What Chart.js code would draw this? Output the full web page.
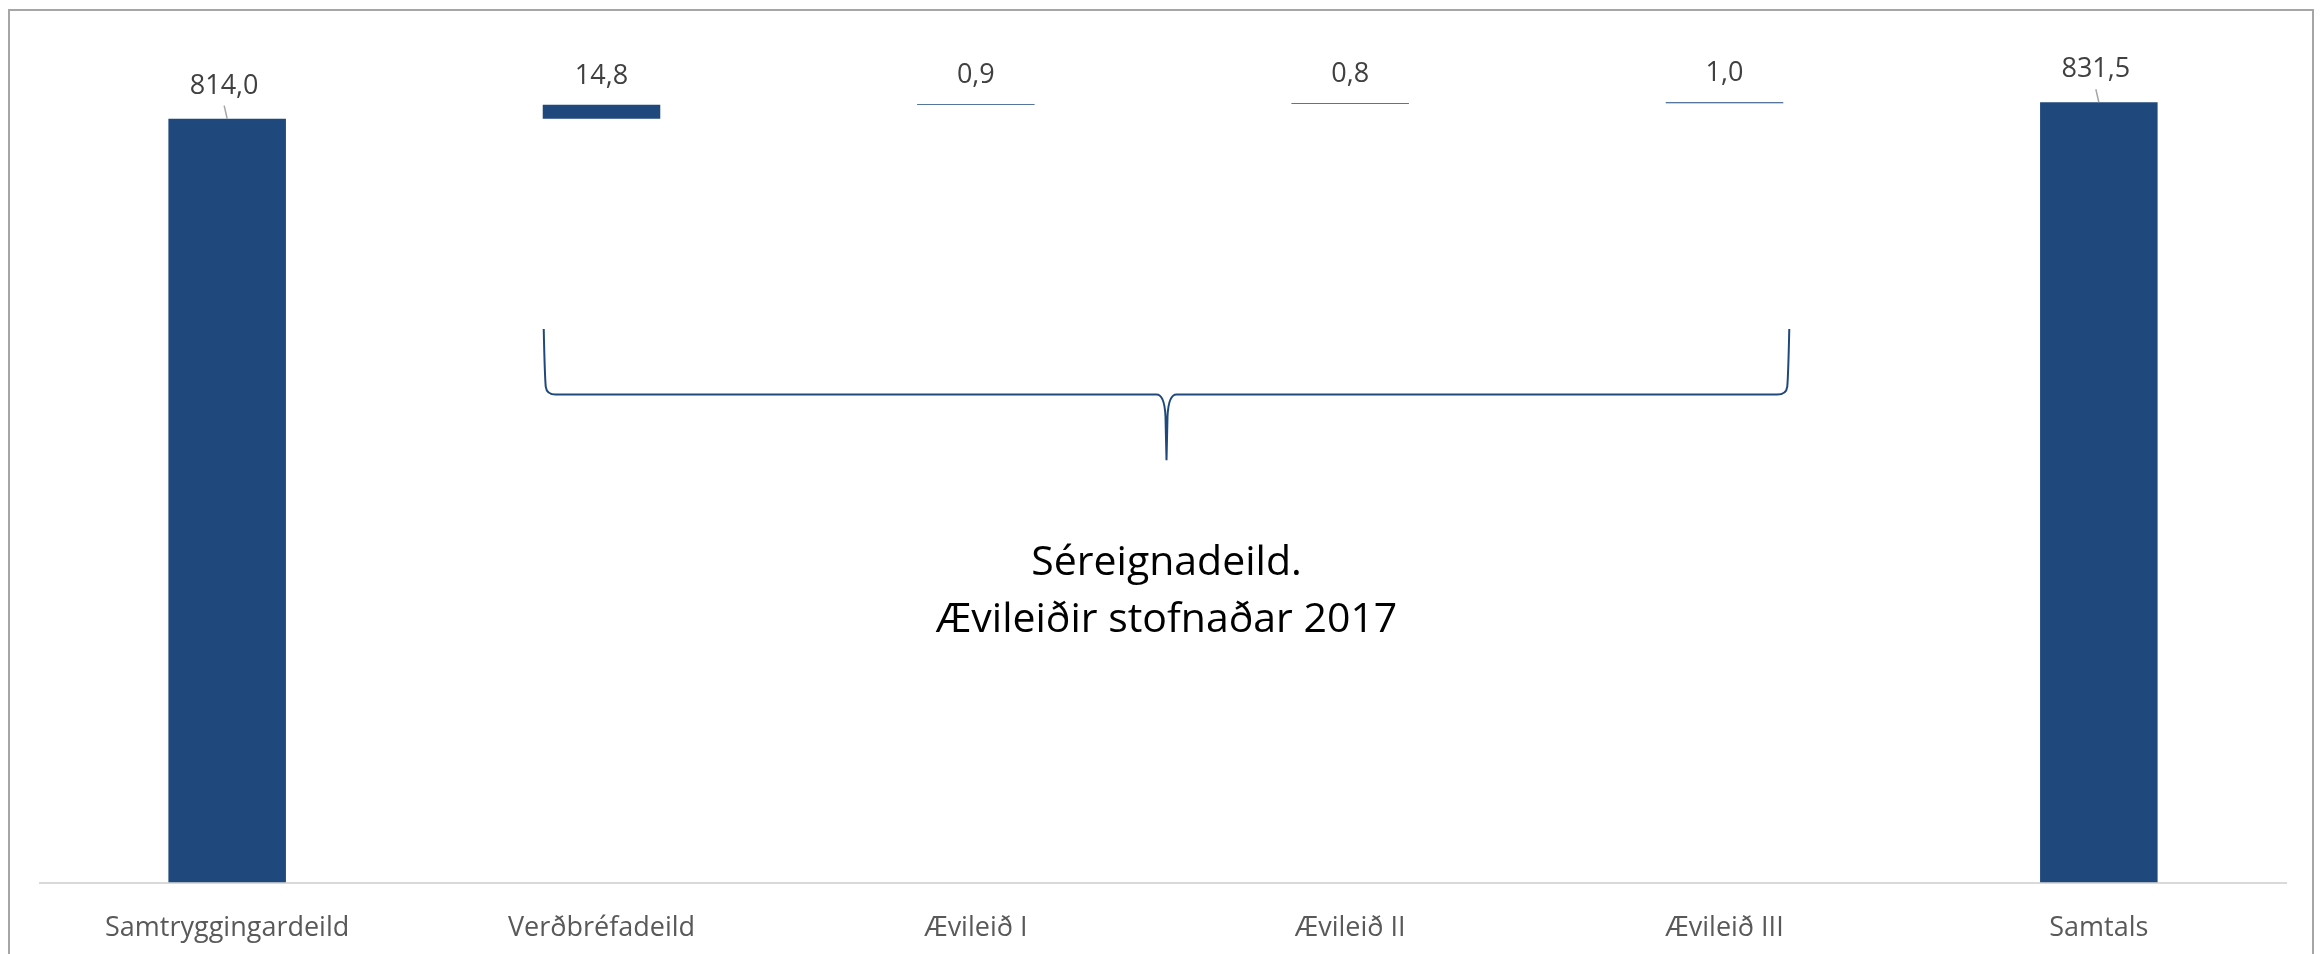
<!DOCTYPE html>
<html>
<head>
<meta charset="utf-8">
<script src="https://cdn.jsdelivr.net/npm/chart.js@4.4.1/dist/chart.umd.min.js"></script>
<style>
  html, body { margin: 0; padding: 0; background: #fff; overflow: hidden; }
  #frame { position: absolute; left: 8px; top: 9px; width: 2306px; height: 1000px; border: 2px solid #a6a6a6; box-sizing: border-box; }
  #wrap { position: absolute; left: 0; top: 0; }
</style>
</head>
<body>
<div id="frame"></div>
<div id="wrap"><canvas id="waterfall" width="2320" height="975"></canvas></div>
<script>
// Gögn (lesin af myndinni)
const categories = ['Samtryggingardeild', 'Verðbréfadeild', 'Ævileið I', 'Ævileið II', 'Ævileið III', 'Samtals'];
const values = [814.0, 14.8, 0.9, 0.8, 1.0, 831.5];
const isTotal = [true, false, false, false, false, true];
const noteLines = ['Séreignadeild.', 'Ævileiðir stofnaðar 2017'];
const braceFrom = 1, braceTo = 4;        // sviginn nær yfir þessa flokka
const braceLevels = [590, 520, 450];     // efst, miðja, oddur (í gildum y-ássins)
const noteLevels = [328, 267];           // grunnlína textalína
const yMax = 900;

const barColor = '#1F497D';
const fontFamily = '"Open Sans", "Noto Sans", sans-serif';

// Fljótandi súlur: heildir frá 0, breytingar ofan á uppsafnaða summu
function buildFloating() {
    let running = 0;
    return values.map((v, i) => {
        if (isTotal[i]) {
            running = v;
            return [0, v];
        }
        const start = running;
        running += v;
        return [start, running];
    });
}

function fmt(v) {
    return v.toFixed(1).replace('.', ',');
}

const overlayPlugin = {
    id: 'overlay',
    afterDatasetsDraw(chart) {
        const ctx = chart.ctx;
        const meta = chart.getDatasetMeta(0);
        const y = chart.scales.y;

        // Gildismerki og leiðarlínur
        ctx.save();
        ctx.font = '27px ' + fontFamily;
        ctx.fillStyle = '#404040';
        ctx.textAlign = 'center';
        ctx.textBaseline = 'alphabetic';
        meta.data.forEach((bar, i) => {
            const top = Math.min(bar.y, bar.base);
            const gap = isTotal[i] ? 25 : 21;
            ctx.fillText(fmt(values[i]), bar.x - (isTotal[i] ? 3 : 0), top - gap);
            if (isTotal[i]) {
                ctx.strokeStyle = '#a6a6a6';
                ctx.lineWidth = 1.5;
                ctx.beginPath();
                ctx.moveTo(bar.x - 3, top - 13);
                ctx.lineTo(bar.x, top);
                ctx.stroke();
            }
        });
        ctx.restore();

        // Slaufusvigi
        const b0 = meta.data[braceFrom], b1 = meta.data[braceTo];
        const L = b0.x - b0.width / 2 + 1;
        const R = b1.x + b1.width / 2 + 6;
        const C = (L + R) / 2;
        const top = y.getPixelForValue(braceLevels[0]);
        const mid = y.getPixelForValue(braceLevels[1]);
        const tip = y.getPixelForValue(braceLevels[2]);
        ctx.save();
        ctx.strokeStyle = barColor;
        ctx.lineWidth = 2;
        ctx.beginPath();
        ctx.moveTo(L, top);
        ctx.quadraticCurveTo(L + 1, mid - 20, L + 2, mid - 8);
        ctx.quadraticCurveTo(L + 3, mid, L + 12, mid);
        ctx.lineTo(C - 10, mid);
        ctx.quadraticCurveTo(C - 2, mid, C - 1, mid + 22);
        ctx.lineTo(C, tip);
        ctx.lineTo(C + 1, mid + 22);
        ctx.quadraticCurveTo(C + 2, mid, C + 10, mid);
        ctx.lineTo(R - 12, mid);
        ctx.quadraticCurveTo(R - 3, mid, R - 2, mid - 8);
        ctx.quadraticCurveTo(R - 1, mid - 20, R, top);
        ctx.stroke();

        // Skýringartexti
        ctx.font = '41px ' + fontFamily;
        ctx.fillStyle = '#000';
        ctx.textAlign = 'center';
        ctx.textBaseline = 'alphabetic';
        noteLines.forEach((t, i) => ctx.fillText(t, C, y.getPixelForValue(noteLevels[i])));
        ctx.restore();
    }
};

new Chart(document.getElementById('waterfall'), {
    type: 'bar',
    data: {
        labels: categories,
        datasets: [{
            data: buildFloating(),
            backgroundColor: barColor,
            borderWidth: 0,
            borderSkipped: false,
            categoryPercentage: 1,
            barPercentage: 0.314
        }]
    },
    options: {
        responsive: false,
        animation: false,
        layout: { padding: { left: 40, right: 34, top: 38, bottom: 0 } },
        plugins: {
            legend: { display: false },
            tooltip: { enabled: false }
        },
        scales: {
            x: {
                grid: { display: false, drawTicks: false },
                border: { display: true, color: '#d9d9d9', width: 2 },
                ticks: { color: '#595959', font: { family: fontFamily, size: 27 }, padding: 30, maxRotation: 0, autoSkip: false }
            },
            y: {
                display: false,
                min: 0,
                max: yMax
            }
        }
    },
    plugins: [overlayPlugin]
});
</script>
</body>
</html>
